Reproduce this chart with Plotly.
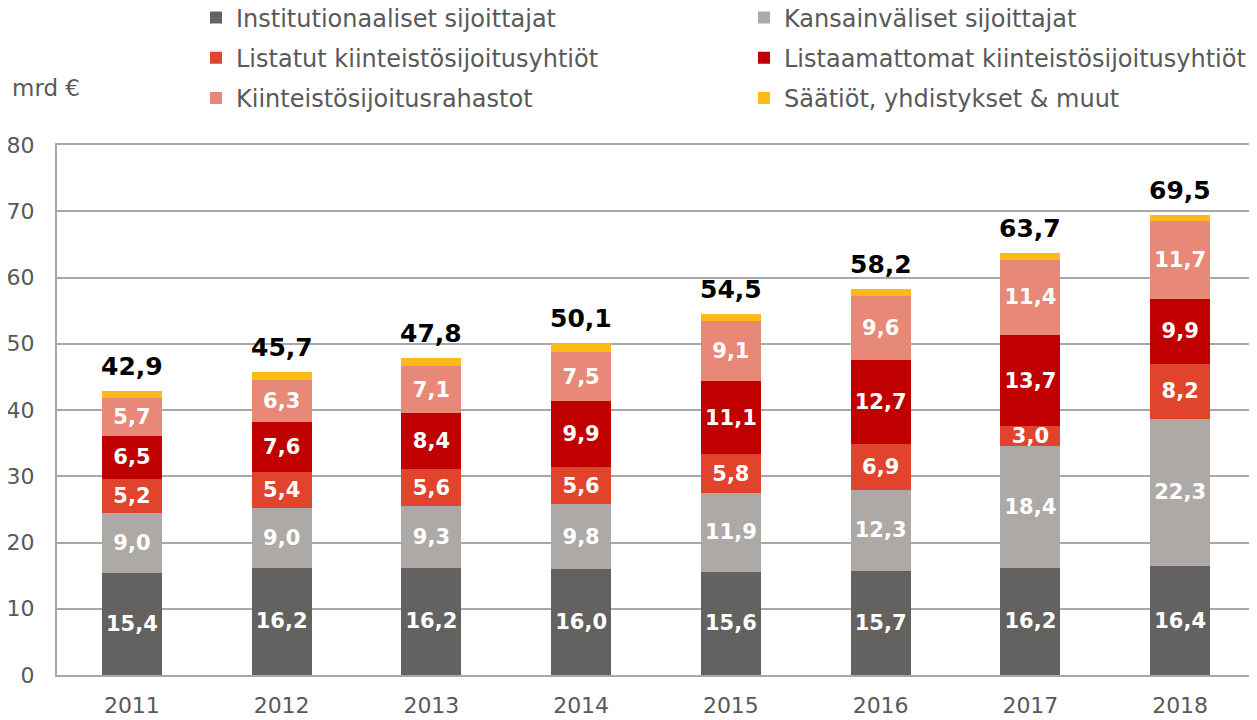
import plotly.graph_objects as go

years = ["2011", "2012", "2013", "2014", "2015", "2016", "2017", "2018"]
institutionaaliset = [15.4, 16.2, 16.2, 16.0, 15.6, 15.7, 16.2, 16.4]
kansainvaliset = [9.0, 9.0, 9.3, 9.8, 11.9, 12.3, 18.4, 22.3]
listatut = [5.2, 5.4, 5.6, 5.6, 5.8, 6.9, 3.0, 8.2]
listaamattomat = [6.5, 7.6, 8.4, 9.9, 11.1, 12.7, 13.7, 9.9]
rahastot = [5.7, 6.3, 7.1, 7.5, 9.1, 9.6, 11.4, 11.7]
saatiot = [1.1, 1.2, 1.2, 1.3, 1.0, 1.0, 1.0, 1.0]
totals = [42.9, 45.7, 47.8, 50.1, 54.5, 58.2, 63.7, 69.5]

series = [
    ("Institutionaaliset sijoittajat", institutionaaliset, "#646260", "legend", True),
    ("Kansainväliset sijoittajat", kansainvaliset, "#ADA9A7", "legend2", True),
    ("Listatut kiinteistösijoitusyhtiöt", listatut, "#E0442C", "legend", True),
    ("Listaamattomat kiinteistösijoitusyhtiöt", listaamattomat, "#C00000", "legend2", True),
    ("Kiinteistösijoitusrahastot", rahastot, "#E88878", "legend", True),
    ("Säätiöt, yhdistykset & muut", saatiot, "#FBBB16", "legend2", False),
]

FONT = "DejaVu Sans"
GRID = "#A8A8A8"
TXT = "#595959"

# figure is drawn 8px in from the page corner (browser body margin)
W, H = 1249, 712
L, R, T, B = 49, 2, 137, 45
PW, PH = W - L - R, H - T - B

fig = go.Figure()
for name, vals, color, leg, show_text in series:
    fig.add_trace(go.Bar(
        x=years, y=vals, name=name, legend=leg, legendgroup=name,
        marker=dict(color=color, line=dict(width=0)),
        texttemplate="%{y:.1f}" if show_text else None,
        textposition="inside" if show_text else "none",
        insidetextanchor="middle",
        textfont=dict(family=FONT, size=21, color="white", weight="bold"),
        hoverinfo="x+y+name",
    ))

for i, tot in enumerate(totals):
    fig.add_annotation(
        x=i, y=tot, text=f"{tot:.1f}".replace(".", ","), showarrow=False,
        yanchor="bottom", yshift=8,
        font=dict(family=FONT, size=25, color="black", weight="bold"),
    )

fig.add_annotation(
    xref="paper", yref="paper", x=(2 - L) / PW, y=(H - B - 80) / PH,
    xanchor="left", yanchor="middle", text="mrd €", showarrow=False,
    font=dict(family=FONT, size=23, color=TXT),
)

legend_common = dict(
    orientation="v", xanchor="left", yanchor="top",
    font=dict(family=FONT, size=24, color=TXT),
    bgcolor="rgba(0,0,0,0)", borderwidth=0, tracegroupgap=6,
    itemclick=False, itemdoubleclick=False,
)
leg_y = (H - B + 12.5) / PH

fig.update_layout(
    width=W, height=H,
    barmode="stack", bargap=0.6,
    separators=", ",
    plot_bgcolor="white", paper_bgcolor="white",
    margin=dict(l=L, r=R, t=T, b=B, autoexpand=False),
    uniformtext=dict(minsize=21, mode="show"),
    font=dict(family=FONT, color=TXT),
    legend=dict(x=(188 - L) / PW, y=leg_y, **legend_common),
    legend2=dict(x=(736 - L) / PW, y=leg_y, **legend_common),
    showlegend=True,
    xaxis=dict(
        type="category", range=[-0.5, len(years) - 0.5],
        showgrid=False, showline=True, linecolor=GRID,
        linewidth=2, mirror=True, ticks="", ticklabelstandoff=10,
        tickfont=dict(family=FONT, size=22, color=TXT),
    ),
    yaxis=dict(
        range=[0, 80], dtick=10, showgrid=True, gridcolor=GRID, gridwidth=2,
        showline=True, linecolor=GRID, linewidth=2, mirror=True,
        zeroline=False, ticks="", ticklabelstandoff=16,
        tickfont=dict(family=FONT, size=22, color=TXT),
    ),
)

fig.write_html("out.html")
